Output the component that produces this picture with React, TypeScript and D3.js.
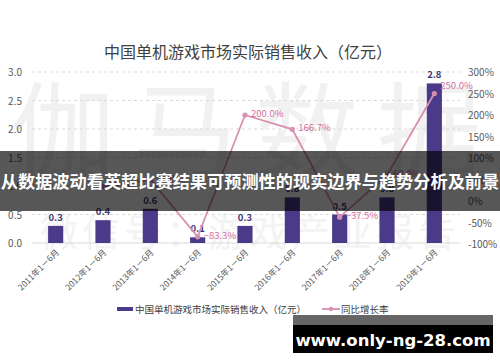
import * as d3 from 'd3';
import { useEffect, useRef } from 'react';

const categories = [
  '2011年1－6月', '2012年1－6月', '2013年1－6月', '2014年1－6月', '2015年1－6月',
  '2016年1－6月', '2017年1－6月', '2018年1－6月', '2019年1－6月',
];
const revenue = [0.3, 0.4, 0.6, 0.1, 0.3, 0.8, 0.5, 0.8, 2.8];
const growth = [null, 33.3, 50.0, -83.3, 200.0, 166.7, -37.5, 60.0, 250.0];
const leftTicks = [0, 0.5, 1.0, 1.5, 2.0, 2.5, 3.0];
const rightTicks = [-100, -50, 0, 50, 100, 150, 200, 250, 300];

const title = '中国单机游戏市场实际销售收入（亿元）';
const bannerText = '从数据波动看英超比赛结果可预测性的现实边界与趋势分析及前景';
const site = 'www.only-ng-28.com';

const W = 500;
const H = 362;
const font = '"Noto Sans CJK SC", "Noto Sans", sans-serif';

const App = () => {
  const ref = useRef(null);

  useEffect(() => {
    const svg = d3.select(ref.current);
    svg.selectAll('*').remove();

    const margin = { left: 32, right: 42, top: 72, bottom: 119 };
    const x = d3.scaleBand().domain(categories).range([margin.left, W - margin.right]).paddingInner(0.68).paddingOuter(0.34);
    const yL = d3.scaleLinear().domain([0, 3]).range([H - margin.bottom, margin.top]);
    const yR = d3.scaleLinear().domain([-100, 300]).range([H - margin.bottom + 1, margin.top]);
    const cx = (c) => x(c) + x.bandwidth() / 2;

    svg.append('rect').attr('width', W).attr('height', H).attr('fill', '#fff');

    // watermark
    svg.append('text').attr('x', 255).attr('y', 170).attr('text-anchor', 'middle')
      .attr('font-family', font).attr('font-size', 104).attr('fill', '#f1f1f1')
      .attr('letter-spacing', 18).text('伽马数据');
    svg.append('text').attr('x', 250).attr('y', 246).attr('text-anchor', 'middle')
      .attr('font-family', font).attr('font-size', 38).attr('fill', '#f3f3f3')
      .attr('letter-spacing', 4).text('微信号：游戏产业报告');

    svg.append('text').attr('x', 248).attr('y', 58).attr('text-anchor', 'middle')
      .attr('font-family', font).attr('font-size', 16).attr('fill', '#404040').text(title);

    // grid
    svg.append('g').selectAll('line').data(leftTicks.slice(1)).join('line')
      .attr('x1', margin.left).attr('x2', W - margin.right + 2)
      .attr('y1', (d) => yL(d)).attr('y2', (d) => yL(d))
      .attr('stroke', '#d9d9d9').attr('stroke-dasharray', '3,3');
    svg.append('line').attr('x1', margin.left).attr('x2', W - margin.right + 2)
      .attr('y1', yL(0)).attr('y2', yL(0)).attr('stroke', '#d9d9d9');

    const axisText = (sel) => sel.attr('font-family', font).attr('font-size', 10).attr('fill', '#595959');
    svg.append('g').selectAll('text').data(leftTicks).join('text')
      .attr('x', 22).attr('y', (d) => yL(d) + 4).attr('text-anchor', 'end')
      .text((d) => d3.format('.1f')(d)).call(axisText);
    svg.append('g').selectAll('text').data(rightTicks).join('text')
      .attr('x', 468).attr('y', (d) => yR(d) + 4)
      .text((d) => d + '%').call(axisText);

    // bars
    svg.append('g').selectAll('rect').data(revenue).join('rect')
      .attr('x', (d, i) => x(categories[i])).attr('width', x.bandwidth())
      .attr('y', (d) => yL(d)).attr('height', (d) => yL(0) - yL(d))
      .attr('fill', '#4b3a8a');
    svg.append('g').selectAll('text').data(revenue).join('text')
      .attr('x', (d, i) => cx(categories[i])).attr('y', (d) => yL(d) - 5)
      .attr('text-anchor', 'middle').attr('font-family', font).attr('font-size', 9.5)
      .attr('font-weight', 'bold').attr('fill', '#3f3570').text((d) => d3.format('.1f')(d));

    // line
    const pts = growth.map((g, i) => ({ c: categories[i], g })).filter((p) => p.g !== null);
    const line = d3.line().x((p) => cx(p.c)).y((p) => yR(p.g));
    svg.append('path').datum(pts).attr('d', line).attr('fill', 'none')
      .attr('stroke', '#d88fb2').attr('stroke-width', 1.8);
    svg.append('g').selectAll('circle').data(pts).join('circle')
      .attr('cx', (p) => cx(p.c)).attr('cy', (p) => yR(p.g)).attr('r', 2.6).attr('fill', '#d88fb2');
    svg.append('g').selectAll('text').data(pts).join('text')
      .attr('x', (p) => cx(p.c) + 6).attr('y', (p) => yR(p.g) + (p.g === 250 ? -5 : 2))
      .attr('font-family', font).attr('font-size', 9.5).attr('fill', '#d46ea0')
      .text((p) => d3.format('.1f')(p.g) + '%');

    // x labels
    svg.append('g').selectAll('text').data(categories).join('text')
      .attr('transform', (c) => `translate(${cx(c) + 4},${yL(0) + 10}) rotate(-45)`)
      .attr('text-anchor', 'end').attr('font-family', font).attr('font-size', 8.5)
      .attr('fill', '#595959').text((c) => c);

    // legend
    svg.append('rect').attr('x', 117).attr('y', 307).attr('width', 16).attr('height', 4).attr('fill', '#4b3a8a');
    svg.append('text').attr('x', 135).attr('y', 312.5).attr('font-family', font).attr('font-size', 9.5)
      .attr('fill', '#404040').text(title);
    svg.append('line').attr('x1', 322).attr('x2', 340).attr('y1', 309).attr('y2', 309)
      .attr('stroke', '#d88fb2').attr('stroke-width', 1.8);
    svg.append('circle').attr('cx', 331).attr('cy', 309).attr('r', 2.2).attr('fill', '#d88fb2');
    svg.append('text').attr('x', 341).attr('y', 312.5).attr('font-family', font).attr('font-size', 9.5)
      .attr('fill', '#404040').text('同比增长率');

    // banner overlay
    svg.append('rect').attr('x', 0).attr('y', 151).attr('width', W).attr('height', 60)
      .attr('fill', 'rgba(0,0,0,0.66)');
    svg.append('text').attr('x', 250).attr('y', 188).attr('text-anchor', 'middle')
      .attr('font-family', font).attr('font-size', 17.2).attr('font-weight', 'bold')
      .attr('fill', '#fff').text(bannerText);

    // site box
    svg.append('rect').attr('x', 293).attr('y', 315).attr('width', 200).attr('height', 10).attr('fill', '#666');
    svg.append('rect').attr('x', 293).attr('y', 325).attr('width', 200).attr('height', 28).attr('fill', '#000');
    svg.append('text').attr('x', 393).attr('y', 346).attr('text-anchor', 'middle')
      .attr('font-family', '"DejaVu Sans", sans-serif').attr('font-size', 16.5).attr('font-weight', 'bold')
      .attr('fill', '#fff').text(site);
  }, []);

  return (
    <svg ref={ref} width={W} height={H} style={{ position: 'absolute', left: 0, top: 0 }}></svg>
  );
};

export default App;
